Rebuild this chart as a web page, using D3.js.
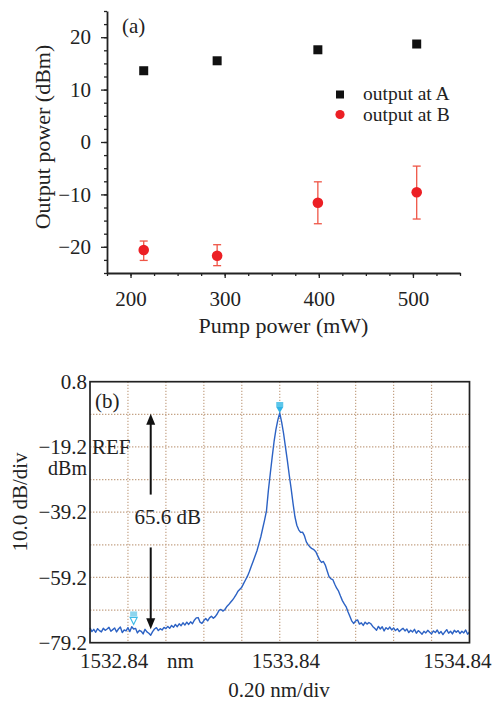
<!DOCTYPE html>
<html lang="en">
<head>
<meta charset="UTF-8">
<title>Output power and spectrum</title>
<script src="https://cdn.jsdelivr.net/npm/d3@7"></script>
<style>
  html, body { margin: 0; padding: 0; background: #fff; }
  svg text { fill: #222; }
</style>
</head>
<body>
<div id="chart"></div>
<script>
// ---- (a) output power vs pump power ----
const pumpPower = [214, 292, 399, 504];
const outputA = [13.6, 15.5, 17.6, 18.7];
const outputB = [-20.6, -21.7, -11.6, -9.6];
const outputBLow = [-22.6, -23.6, -15.6, -14.7];
const outputBHigh = [-18.9, -19.6, -7.6, -4.6];
const pumpTicks = [200, 300, 400, 500];
const powerTicks = [-20, -10, 0, 10, 20];
const legendLabels = ["output at A", "output at B"];

// ---- (b) optical spectrum ----
const wavelength = [
  1532.84, 1532.85, 1532.86, 1532.87, 1532.88, 1532.89, 1532.90, 1532.91, 1532.92, 1532.93,
  1532.94, 1532.95, 1532.96, 1532.97, 1532.98, 1532.99, 1533.00, 1533.01, 1533.02, 1533.03,
  1533.04, 1533.05, 1533.06, 1533.07, 1533.08, 1533.09, 1533.10, 1533.11, 1533.12, 1533.13,
  1533.14, 1533.15, 1533.16, 1533.17, 1533.18, 1533.19, 1533.20, 1533.21, 1533.22, 1533.23,
  1533.24, 1533.25, 1533.26, 1533.27, 1533.28, 1533.29, 1533.30, 1533.31, 1533.32, 1533.33,
  1533.34, 1533.35, 1533.36, 1533.37, 1533.38, 1533.39, 1533.40, 1533.41, 1533.42, 1533.43,
  1533.44, 1533.45, 1533.46, 1533.47, 1533.48, 1533.49, 1533.50, 1533.51, 1533.52, 1533.53,
  1533.54, 1533.55, 1533.56, 1533.57, 1533.58, 1533.59, 1533.60, 1533.61, 1533.62, 1533.63,
  1533.64, 1533.65, 1533.66, 1533.67, 1533.68, 1533.69, 1533.70, 1533.71, 1533.72, 1533.73,
  1533.74, 1533.75, 1533.76, 1533.77, 1533.78, 1533.79, 1533.80, 1533.81, 1533.82, 1533.83,
  1533.84, 1533.85, 1533.86, 1533.87, 1533.88, 1533.89, 1533.90, 1533.91, 1533.92, 1533.93,
  1533.94, 1533.95, 1533.96, 1533.97, 1533.98, 1533.99, 1534.00, 1534.01, 1534.02, 1534.03,
  1534.04, 1534.05, 1534.06, 1534.07, 1534.08, 1534.09, 1534.10, 1534.11, 1534.12, 1534.13,
  1534.14, 1534.15, 1534.16, 1534.17, 1534.18, 1534.19, 1534.20, 1534.21, 1534.22, 1534.23,
  1534.24, 1534.25, 1534.26, 1534.27, 1534.28, 1534.29, 1534.30, 1534.31, 1534.32, 1534.33,
  1534.34, 1534.35, 1534.36, 1534.37, 1534.38, 1534.39, 1534.40, 1534.41, 1534.42, 1534.43,
  1534.44, 1534.45, 1534.46, 1534.47, 1534.48, 1534.49, 1534.50, 1534.51, 1534.52, 1534.53,
  1534.54, 1534.55, 1534.56, 1534.57, 1534.58, 1534.59, 1534.60, 1534.61, 1534.62, 1534.63,
  1534.64, 1534.65, 1534.66, 1534.67, 1534.68, 1534.69, 1534.70, 1534.71, 1534.72, 1534.73,
  1534.74, 1534.75, 1534.76, 1534.77, 1534.78, 1534.79, 1534.80, 1534.81, 1534.82, 1534.83,
  1534.84
];
const spectrumDbm = [
  -74.6, -75.8, -75.1, -76.0, -74.9, -75.5, -75.9, -74.8, -75.4, -75.0,
  -74.5, -75.7, -75.2, -74.7, -75.9, -75.0, -74.4, -76.1, -75.3, -75.6,
  -74.6, -75.8, -74.3, -75.0, -74.8, -76.2, -75.4, -75.7, -76.5, -75.1,
  -75.9, -76.3, -76.9, -75.8, -75.0, -74.6, -75.5, -74.9, -75.3, -74.5,
  -74.9, -74.2, -74.8, -73.9, -74.5, -73.6, -74.3, -73.4, -74.0, -73.1,
  -73.8, -72.9, -73.6, -72.8, -73.4, -72.3, -71.6, -71.5, -72.9, -73.3,
  -72.4, -71.8, -72.5, -71.6, -71.1, -71.7, -71.2, -70.4, -69.3, -69.0,
  -69.5, -69.1, -68.2, -67.6, -66.9, -66.2, -65.4, -64.5, -63.4, -62.8,
  -62.2, -61.0, -59.9, -58.8, -57.4, -55.8, -54.2, -52.6, -51.0, -48.9,
  -46.8, -44.2, -41.6, -38.8, -32.6, -27.4, -22.4, -17.6, -13.8, -10.9,
  -8.8, -11.6, -15.0, -19.2, -23.3, -27.8, -32.0, -36.5, -40.6, -43.2,
  -44.6, -45.4, -45.3, -46.4, -48.3, -49.2, -49.9, -50.4, -50.7, -51.3,
  -52.6, -53.8, -54.6, -54.3, -55.4, -57.2, -59.0, -59.6, -59.9, -61.3,
  -62.5, -63.4, -64.9, -66.3, -67.3, -68.2, -69.8, -71.2, -72.6, -73.3,
  -72.5, -72.2, -73.5, -73.1, -73.9, -72.9, -73.5, -73.0, -73.4, -74.2,
  -74.8, -75.4, -74.2, -75.0, -74.3, -75.6, -74.6, -75.1, -74.4, -75.3,
  -74.7, -75.5, -74.9, -75.8, -75.2, -74.8, -75.6, -75.0, -76.1, -75.4,
  -75.9, -75.1, -76.3, -75.5, -76.0, -76.6, -75.7, -76.2, -75.4, -76.0,
  -76.5, -75.6, -76.1, -75.3, -76.4, -75.8, -76.7, -75.9, -75.2, -76.3,
  -75.7, -76.5, -75.4, -76.0, -75.5, -76.4, -75.7, -76.2, -75.3, -76.6,
  -75.9
];
const gridNm = [1532.84, 1533.04, 1533.24, 1533.44, 1533.64, 1533.84, 1534.04, 1534.24, 1534.44, 1534.64, 1534.84];
const gridDbm = [0.8, -9.2, -19.2, -29.2, -39.2, -49.2, -59.2, -69.2, -79.2];
const refTicks = [0.8, -19.2, -39.2, -59.2, -79.2];
const nmTicks = [1532.84, 1533.84, 1534.84];
const peakMarker = [1533.84, -8.8];
const floorMarker = [1533.07, -73.6];
const arrowNm = 1533.16;
const arrowUp = [-33.8, -9.0];
const arrowDown = [-50.0, -75.1];

const W = 494, H = 702;
const FONT = 21;
const SERIF = "'Liberation Serif', 'DejaVu Serif', serif";

const svg = d3.select("#chart").append("svg")
  .attr("width", W)
  .attr("height", H)
  .attr("font-family", SERIF);

// ========== panel (a) ==========
const xA = d3.scaleLinear().domain([175, 550]).range([107, 460]);
const yA = d3.scaleLinear().domain([-25, 25]).range([273, 11]);

const gA = svg.append("g");

// minor ticks first, then major ticks with labels
gA.append("g")
  .attr("transform", `translate(${xA.range()[0]},0)`)
  .call(d3.axisLeft(yA).tickValues(d3.range(-25, 25.01, 2.5)).tickSize(3).tickSizeOuter(0).tickFormat(""))
  .call(g => g.select(".domain").remove());
gA.append("g")
  .attr("transform", `translate(0,${yA.range()[0]})`)
  .call(d3.axisBottom(xA).tickValues(d3.range(175, 550.1, 25)).tickSize(3).tickSizeOuter(0).tickFormat(""))
  .call(g => g.select(".domain").remove());

gA.append("g")
  .attr("transform", `translate(${xA.range()[0]},0)`)
  .call(d3.axisLeft(yA).tickValues(powerTicks).tickSize(6).tickSizeOuter(0).tickPadding(10));
gA.append("g")
  .attr("transform", `translate(0,${yA.range()[0]})`)
  .call(d3.axisBottom(xA).tickValues(pumpTicks).tickSize(5).tickSizeOuter(0).tickPadding(13));

// d3 axes put a sans-serif font on their groups; switch them back
gA.selectAll("g").attr("font-family", SERIF);
gA.selectAll(".domain").attr("stroke", "#222").attr("stroke-width", 1.8);
gA.selectAll(".tick line").attr("stroke", "#222").attr("stroke-width", 1.3);
gA.selectAll(".tick text").attr("font-size", FONT).attr("fill", "#222");

gA.append("text")
  .attr("transform", "translate(50,137) rotate(-90)")
  .attr("text-anchor", "middle")
  .attr("font-size", 22)
  .text("Output power (dBm)");

gA.append("text")
  .attr("x", (xA.range()[0] + xA.range()[1]) / 2)
  .attr("y", 333)
  .attr("text-anchor", "middle")
  .attr("font-size", 22)
  .text("Pump power (mW)");

gA.append("text")
  .attr("x", 122)
  .attr("y", 33)
  .attr("font-size", FONT)
  .text("(a)");

// output at A: squares
gA.selectAll("rect.ptA")
  .data(pumpPower)
  .enter()
  .append("rect")
  .attr("class", "ptA")
  .attr("x", d => xA(d) - 4.5)
  .attr("y", (d, i) => yA(outputA[i]) - 4.5)
  .attr("width", 9)
  .attr("height", 9)
  .attr("fill", "#111");

// output at B: error bars + circles
const errG = gA.append("g").attr("stroke", "#ef5546").attr("stroke-width", 1.3);
pumpPower.forEach((p, i) => {
  const cx = xA(p);
  errG.append("line").attr("x1", cx).attr("x2", cx).attr("y1", yA(outputBLow[i])).attr("y2", yA(outputBHigh[i]));
  errG.append("line").attr("x1", cx - 4).attr("x2", cx + 4).attr("y1", yA(outputBLow[i])).attr("y2", yA(outputBLow[i]));
  errG.append("line").attr("x1", cx - 4).attr("x2", cx + 4).attr("y1", yA(outputBHigh[i])).attr("y2", yA(outputBHigh[i]));
});
gA.selectAll("circle.ptB")
  .data(pumpPower)
  .enter()
  .append("circle")
  .attr("class", "ptB")
  .attr("cx", d => xA(d))
  .attr("cy", (d, i) => yA(outputB[i]))
  .attr("r", 5.3)
  .attr("fill", "#ec1f24");

// legend
const legend = gA.append("g").attr("transform", "translate(340,94.5)");
legend.append("rect").attr("x", -4).attr("y", -4).attr("width", 8).attr("height", 8).attr("fill", "#111");
legend.append("circle").attr("cx", 0).attr("cy", 20).attr("r", 4.6).attr("fill", "#ec1f24");
legend.selectAll("text")
  .data(legendLabels)
  .enter()
  .append("text")
  .attr("x", 23)
  .attr("y", (d, i) => 5.5 + i * 21.2)
  .attr("font-size", 19.5)
  .text(d => d);

// ========== panel (b) ==========
const xB = d3.scaleLinear().domain([1532.84, 1534.84]).range([90, 469.5]);
const yB = d3.scaleLinear().domain([-79.2, 0.8]).range([642.7, 381.7]);

const gB = svg.append("g");

// dotted grid
const grid = gB.append("g")
  .attr("stroke", "#c4a285")
  .attr("stroke-width", 1.2)
  .attr("stroke-dasharray", "1.4,1.6");
grid.selectAll("line.v")
  .data(gridNm.slice(1, -1))
  .enter()
  .append("line")
  .attr("x1", d => xB(d)).attr("x2", d => xB(d))
  .attr("y1", yB.range()[1]).attr("y2", yB.range()[0]);
grid.selectAll("line.h")
  .data(gridDbm.slice(1, -1))
  .enter()
  .append("line")
  .attr("y1", d => yB(d)).attr("y2", d => yB(d))
  .attr("x1", xB.range()[0]).attr("x2", xB.range()[1]);

// spectrum trace
const line = d3.line()
  .x((d, i) => xB(wavelength[i]))
  .y(d => yB(d));
gB.append("path")
  .datum(spectrumDbm)
  .attr("d", line)
  .attr("fill", "none")
  .attr("stroke", "#2c62c4")
  .attr("stroke-width", 1.4)
  .attr("stroke-linejoin", "round");

// frame
gB.append("rect")
  .attr("x", xB.range()[0])
  .attr("y", yB.range()[1])
  .attr("width", xB.range()[1] - xB.range()[0])
  .attr("height", yB.range()[0] - yB.range()[1])
  .attr("fill", "none")
  .attr("stroke", "#222")
  .attr("stroke-width", 1.7);

// markers
const pk = [xB(peakMarker[0]), yB(peakMarker[1])];
gB.append("rect")
  .attr("x", pk[0] - 3.5).attr("y", pk[1] - 11)
  .attr("width", 7).attr("height", 5)
  .attr("fill", "#5cc6ea");
gB.append("path")
  .attr("d", `M${pk[0] - 3.5},${pk[1] - 6}L${pk[0] + 3.5},${pk[1] - 6}L${pk[0]},${pk[1]}Z`)
  .attr("fill", "#2fb3e6");
const fm = [xB(floorMarker[0]), yB(floorMarker[1])];
gB.append("rect")
  .attr("x", fm[0] - 3.5).attr("y", fm[1] - 13)
  .attr("width", 7).attr("height", 5)
  .attr("fill", "#8dd5ee");
gB.append("path")
  .attr("d", `M${fm[0] - 3.5},${fm[1] - 7}L${fm[0] + 3.5},${fm[1] - 7}L${fm[0]},${fm[1]}Z`)
  .attr("fill", "none")
  .attr("stroke", "#3dbbe8")
  .attr("stroke-width", 1.2);

// 65.6 dB arrows
const ax = xB(arrowNm);
const arrowG = gB.append("g");
function arrow (from, to) {
  const y0 = yB(from), y1 = yB(to);
  const dir = y1 < y0 ? 1 : -1;
  arrowG.append("line")
    .attr("x1", ax).attr("x2", ax)
    .attr("y1", y0).attr("y2", y1 + dir * 9)
    .attr("stroke", "#111").attr("stroke-width", 2);
  arrowG.append("path")
    .attr("d", `M${ax},${y1}L${ax - 4.5},${y1 + dir * 11}L${ax + 4.5},${y1 + dir * 11}Z`)
    .attr("fill", "#111");
}
arrow(arrowUp[0], arrowUp[1]);
arrow(arrowDown[0], arrowDown[1]);

gB.append("text")
  .attr("x", ax + 17)
  .attr("y", 524)
  .attr("text-anchor", "middle")
  .attr("font-size", FONT)
  .text("65.6 dB");

// y labels
const yAxisB = gB.append("g")
  .attr("transform", `translate(${xB.range()[0]},0)`)
  .call(d3.axisLeft(yB).tickValues(refTicks).tickSize(0).tickPadding(3).tickFormat(d3.format(".1f")))
  .attr("font-family", SERIF);
yAxisB.select(".domain").remove();
yAxisB.selectAll("text").attr("font-size", FONT).attr("fill", "#222");

gB.append("text")
  .attr("x", 87)
  .attr("y", yB(-19.2) + 28.5)
  .attr("text-anchor", "end")
  .attr("font-size", 20)
  .text("dBm");
gB.append("text")
  .attr("x", 92)
  .attr("y", yB(-19.2) + 7)
  .attr("font-size", FONT)
  .text("REF");
gB.append("text")
  .attr("x", 95)
  .attr("y", 408)
  .attr("font-size", FONT)
  .text("(b)");

// x labels
const nmAnchor = ["start", "middle", "end"];
const nmShift = [-10, 6, 22];
gB.selectAll("text.nm")
  .data(nmTicks)
  .enter()
  .append("text")
  .attr("class", "nm")
  .attr("x", (d, i) => xB(d) + nmShift[i])
  .attr("y", 668)
  .attr("text-anchor", (d, i) => nmAnchor[i])
  .attr("font-size", FONT)
  .text(d => d3.format(".2f")(d));
gB.append("text")
  .attr("x", 167)
  .attr("y", 668)
  .attr("font-size", FONT)
  .text("nm");

gB.append("text")
  .attr("transform", "translate(27,502) rotate(-90)")
  .attr("text-anchor", "middle")
  .attr("font-size", FONT)
  .text("10.0 dB/div");
gB.append("text")
  .attr("x", 279)
  .attr("y", 697)
  .attr("text-anchor", "middle")
  .attr("font-size", FONT)
  .text("0.20 nm/div");
</script>
</body>
</html>
